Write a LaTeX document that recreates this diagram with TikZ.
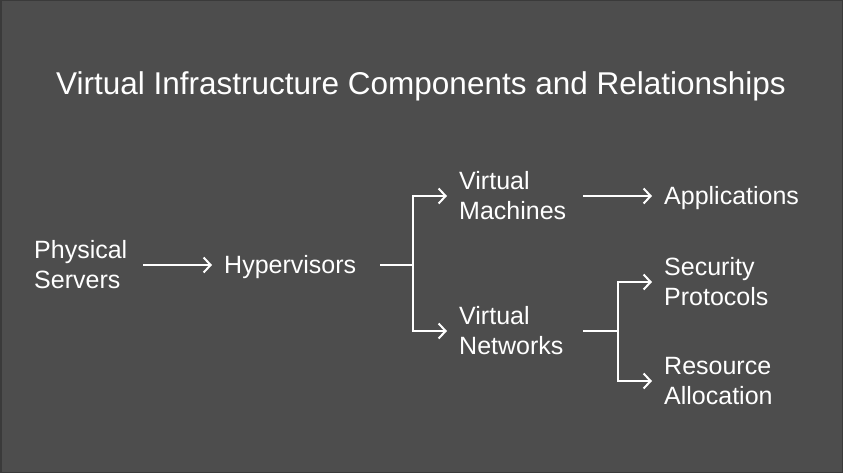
\documentclass[tikz,border=0pt]{standalone}
\usepackage{fontspec}
\setmainfont{Liberation Sans}
\usetikzlibrary{arrows.meta}
\definecolor{bgdark}{HTML}{4D4D4D}
\definecolor{bgedge}{HTML}{3A3A3A}
\tikzset{
	label text/.style={anchor=west, align=left, text=white, inner sep=0pt, font=\fontsize{25}{30}\selectfont},
	flow/.style={draw=white, line width=2pt, -{Straight Barb[length=7pt, width=15pt, line width=2pt]}},
	stem/.style={draw=white, line width=2pt}
}
\begin{document}
\begin{tikzpicture}[x=1pt, y=-1pt]
			\useasboundingbox (0, 0) rectangle (843, 473);
			\fill[bgdark] (0, 0) rectangle (843, 473);
			\draw[bgedge, line width=1.5pt] (0.75, 0.75) rectangle (842.25, 472.25);
			\node (title) at (421, 86) [text=white, font=\fontsize{31.5}{36}\selectfont] {Virtual Infrastructure Components and Relationships};

			\node (servers) at (34, 265) [label text] {Physical\\Servers};
			\node (hyper) at (224, 267) [label text] {Hypervisors};
			\node (vm) at (459, 196) [label text] {Virtual\\Machines};
			\node (vnet) at (459, 331) [label text] {Virtual\\Networks};
			\node (apps) at (664, 198) [label text] {Applications};
			\node (secure) at (664, 282) [label text] {Security\\Protocols};
			\node (alloc) at (664, 381) [label text] {Resource\\Allocation};

			\coordinate (hypersplit) at (413, 265);
			\coordinate (vnetsplit) at (618, 331);

			\draw[flow] (143, 265) -- ([xshift=-12pt, yshift=2pt]hyper.west);
			\draw[stem] (380, 265) -- (hypersplit);
			\draw[flow] (hypersplit) |- ([xshift=-12pt]vm.west);
			\draw[flow] (hypersplit) |- ([xshift=-12pt]vnet.west);
			\draw[flow] (583, 196) -- ([xshift=-12pt, yshift=2pt]apps.west);
			\draw[stem] (583, 331) -- (vnetsplit);
			\draw[flow] (vnetsplit) |- ([xshift=-12pt]secure.west);
			\draw[flow] (vnetsplit) |- ([xshift=-12pt]alloc.west);
		\end{tikzpicture}
\end{document}
